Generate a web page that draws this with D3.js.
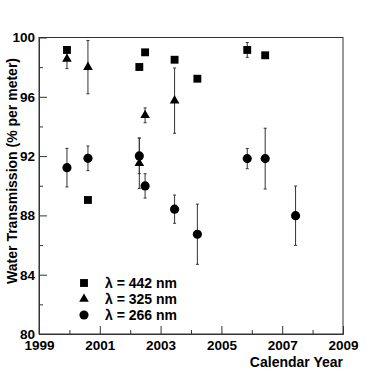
<!DOCTYPE html>
<html>
<head>
<meta charset="utf-8">
<script src="https://cdn.jsdelivr.net/npm/d3@7"></script>
<style>
  body { margin: 0; background: #fff; }
  svg text { font-family: "Liberation Sans", Arial, Helvetica, sans-serif; font-weight: bold; }
</style>
</head>
<body>
<svg width="382" height="372"></svg>
<script>
// data
var years442 = [1999.92, 2000.61, 2002.30, 2002.49, 2003.46, 2004.21, 2005.85, 2006.44];
var vals442  = [99.16, 89.04, 98.01, 99.0, 98.5, 97.22, 99.16, 98.8];
var errs442  = [0, 0, 0, 0, 0, 0, 0.5, 0];

var years325 = [1999.92, 2000.61, 2002.30, 2002.49, 2003.46];
var vals325  = [98.55, 98.0, 91.52, 94.75, 95.74];
var errs325  = [0.65, 1.8, 1.7, 0.5, 2.2];

var years266 = [1999.92, 2000.61, 2002.30, 2002.49, 2003.46, 2004.21, 2005.85, 2006.44, 2007.44];
var vals266  = [91.22, 91.85, 92.01, 89.99, 88.42, 86.73, 91.83, 91.83, 87.98];
var errs266  = [1.3, 0.83, 1.2, 0.82, 0.95, 2.03, 0.68, 2.05, 2.0];

var xMajor = [1999, 2001, 2003, 2005, 2007, 2009];
var xMinor = [2000, 2002, 2004, 2006, 2008];
var yMajor = [80, 84, 88, 92, 96, 100];
var yMinor = [82, 86, 90, 94, 98];

var legendLabels = ["λ = 442 nm", "λ = 325 nm", "λ = 266 nm"];

// plot frame
var frame = {left: 39, right: 343, top: 37.5, bottom: 334};

var svg = d3.select("svg");

var x = d3.scaleLinear().domain([1999, 2009]).range([frame.left, frame.right]);
var y = d3.scaleLinear().domain([80, 100]).range([frame.bottom, frame.top]);

// frame box
svg.append("rect")
    .attr("x", frame.left).attr("y", frame.top)
    .attr("width", frame.right - frame.left).attr("height", frame.bottom - frame.top)
    .attr("fill", "none")
    .attr("stroke", "#333")
    .attr("stroke-width", 1);

// x axis, ticks point inward
svg.append("g")
    .attr("transform", `translate(0,${frame.bottom})`)
    .call(d3.axisBottom(x).tickValues(xMajor).tickFormat(d3.format("d"))
        .tickSize(-8).tickSizeOuter(0).tickPadding(6));
svg.append("g")
    .attr("transform", `translate(0,${frame.bottom})`)
    .call(d3.axisBottom(x).tickValues(xMinor).tickFormat("")
        .tickSize(-4).tickSizeOuter(0));

// y axis
svg.append("g")
    .attr("transform", `translate(${frame.left},0)`)
    .call(d3.axisLeft(y).tickValues(yMajor).tickFormat(d3.format("d"))
        .tickSize(-8).tickSizeOuter(0).tickPadding(4));
svg.append("g")
    .attr("transform", `translate(${frame.left},0)`)
    .call(d3.axisLeft(y).tickValues(yMinor).tickFormat("")
        .tickSize(-4).tickSizeOuter(0));

svg.selectAll(".domain").attr("stroke", "#333");
svg.selectAll(".tick line").attr("stroke", "#333");
svg.selectAll(".tick text")
    .attr("fill", "#000")
    .style("font-size", "13.5px")
    .style("font-family", "'Liberation Sans', Arial, sans-serif")
    .style("font-weight", "bold");

// axis titles
svg.append("text")
    .attr("x", frame.right)
    .attr("y", 367)
    .attr("text-anchor", "end")
    .style("font-size", "14px")
    .text("Calendar Year");

svg.append("text")
    .attr("transform", "translate(17,58) rotate(-90)")
    .attr("text-anchor", "end")
    .style("font-size", "14px")
    .text("Water Transmission (% per meter)");

// series
var series = [
    {years: years442, vals: vals442, errs: errs442, shape: d3.symbolSquare, size: 62},
    {years: years325, vals: vals325, errs: errs325, shape: d3.symbolTriangle, size: 40},
    {years: years266, vals: vals266, errs: errs266, shape: d3.symbolCircle, size: 66}
];

// error bars first so markers sit on top
series.forEach(s => {
    var pts = s.years.map((yr, i) => ({yr: yr, v: s.vals[i], e: s.errs[i]}))
        .filter(p => p.e > 0);
    var g = svg.append("g").attr("stroke", "#333").attr("stroke-width", 1);
    g.selectAll("line.bar").data(pts).enter().append("line")
        .attr("class", "bar")
        .attr("x1", d => x(d.yr)).attr("x2", d => x(d.yr))
        .attr("y1", d => y(d.v + d.e)).attr("y2", d => y(d.v - d.e));
    g.selectAll("line.capt").data(pts).enter().append("line")
        .attr("class", "capt")
        .attr("x1", d => x(d.yr) - 1.5).attr("x2", d => x(d.yr) + 1.5)
        .attr("y1", d => y(d.v + d.e)).attr("y2", d => y(d.v + d.e));
    g.selectAll("line.capb").data(pts).enter().append("line")
        .attr("class", "capb")
        .attr("x1", d => x(d.yr) - 1.5).attr("x2", d => x(d.yr) + 1.5)
        .attr("y1", d => y(d.v - d.e)).attr("y2", d => y(d.v - d.e));
});

series.forEach(s => {
    var sym = d3.symbol().type(s.shape).size(s.size);
    svg.append("g").selectAll("path")
        .data(s.years.map((yr, i) => ({yr: yr, v: s.vals[i]})))
        .enter().append("path")
        .attr("d", sym)
        .attr("transform", d => `translate(${x(d.yr)},${y(d.v)})`)
        .attr("fill", "#000");
});

// legend
var legend = svg.append("g");
series.forEach((s, i) => {
    var cy = 283 + i * 16;
    legend.append("path")
        .attr("d", d3.symbol().type(s.shape).size(s.size)())
        .attr("transform", `translate(84,${cy})`)
        .attr("fill", "#000");
    legend.append("text")
        .attr("x", 105)
        .attr("y", cy + 5)
        .style("font-size", "14px")
        .text(legendLabels[i]);
});
</script>
</body>
</html>
